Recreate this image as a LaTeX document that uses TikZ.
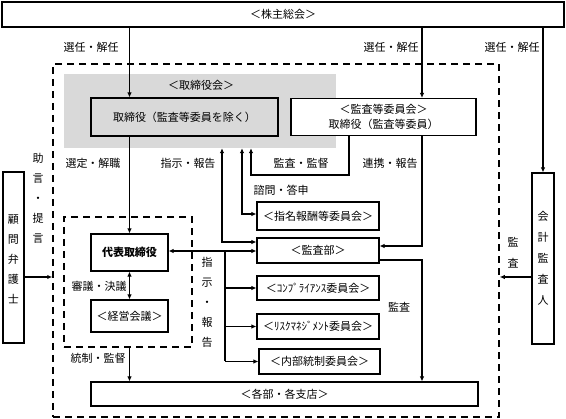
\documentclass[tikz,border=0pt]{standalone}
\usepackage{fontspec}
\newfontfamily\cjk{Noto Sans CJK JP}
\usetikzlibrary{arrows.meta}
\begin{document}
\begin{tikzpicture}[x=1pt,y=-1pt,
  every node/.style={font=\cjk\fontsize{11}{13}\selectfont, inner sep=0pt},
  box/.style={draw, line width=1.1pt},
  arr/.style={-{Latex[length=5pt,width=4.5pt]}, line width=1.1pt},
  darr/.style={{Latex[length=5pt,width=4.5pt]}-{Latex[length=5pt,width=4.5pt]}, line width=1.1pt},
  ln/.style={line width=1.1pt},
  vtext/.style={align=center, font=\cjk\fontsize{11}{20}\selectfont},
  dashbox/.style={draw, line width=1.5pt, dash pattern=on 7pt off 5pt}
]
\useasboundingbox (0,0) rectangle (566,419);
% backgrounds
\node[fill=gray!30, minimum width=272pt, minimum height=74pt] (board) at (200,111) {};
\node[dashbox, minimum width=446pt, minimum height=353pt] (outer) at (276,240.5) {};
\node[dashbox, minimum width=128pt, minimum height=130pt] (inner) at (128,282) {};
% boxes
\node[box, fill=white, minimum width=562pt, minimum height=25pt] (top) at (283,14.5) {＜株主総会＞};
\node[box, minimum width=187pt, minimum height=38pt] (torishimari) at (184.5,117) {取締役（監査等委員を除く）};
\node[box, fill=white, minimum width=185pt, minimum height=37pt, align=center, font=\cjk\fontsize{11}{15}\selectfont] (kansaiin) at (383.5,117) {＜監査等委員会＞\\取締役（監査等委員）};
\node[box, fill=white, minimum width=21pt, minimum height=171pt] (komon) at (13.5,257.5) {};
\node[vtext] (komonT) at (13.5,259.5) {顧\\問\\弁\\護\\士};
\node[box, fill=white, minimum width=22pt, minimum height=171pt] (kaikei) at (543,258.5) {};
\node[vtext, font=\cjk\fontsize{11}{21}\selectfont] (kaikeiT) at (543,258) {会\\計\\監\\査\\人};
\node[box, fill=white, minimum width=77pt, minimum height=37pt, font=\cjk\bfseries\fontsize{11}{13}\selectfont] (daihyo) at (129.5,252.5) {代表取締役};
\node[box, fill=white, minimum width=77pt, minimum height=32pt] (keiei) at (129.5,316) {＜経営会議＞};
\node[box, fill=white, minimum width=387pt, minimum height=24pt] (kakubu) at (284.5,394) {＜各部・各支店＞};
\node[box, fill=white, minimum width=122pt, minimum height=28pt] (shimei) at (318,216) {＜指名報酬等委員会＞};
\node[box, fill=white, minimum width=122pt, minimum height=25pt] (kansabu) at (318,250.5) {＜監査部＞};
\node[box, fill=white, minimum width=122pt, minimum height=24pt] (comp) at (318,288) {＜ｺﾝﾌﾟﾗｲｱﾝｽ委員会＞};
\node[box, fill=white, minimum width=122pt, minimum height=25pt] (risk) at (318,326.5) {＜ﾘｽｸﾏﾈｼﾞﾒﾝﾄ委員会＞};
\node[box, fill=white, minimum width=121pt, minimum height=25pt] (naibu) at (319.5,361.5) {＜内部統制委員会＞};
% labels
\node (l1) at (91,47) {選任・解任};
\node (l2) at (391,47) {選任・解任};
\node (l3) at (512,47) {選任・解任};
\node (l4) at (201,85) {＜取締役会＞};
\node (l5) at (93,163) {選定・解職};
\node (l6) at (188,163) {指示・報告};
\node (l7) at (301,163) {監査・監督};
\node (l8) at (390,163) {連携・報告};
\node (l9) at (281,190) {諮問・答申};
\node (l10) at (99,286) {審議・決議};
\node (l11) at (98,358) {統制・監督};
\node (l12) at (399,307) {監査};
\node[vtext] (l13) at (38,198) {助\\言\\・\\提\\言};
\node[vtext] (l14) at (207,302) {指\\示\\・\\報\\告};
\node[vtext, font=\cjk\fontsize{11}{21}\selectfont] (l15) at (513,252.5) {監\\査};
% helper coordinates
\coordinate (cx) at (422,0);
\coordinate (r1) at (422,246);
\coordinate (r2) at (422,260);
\coordinate (m1) at (349,175);
\coordinate (m2) at (251,175);
\coordinate (s1) at (242,214);
\coordinate (k1) at (222,242);
\coordinate (d1) at (168,251);
\coordinate (b0) at (225,251);
\coordinate (y277) at (0,277);
% connectors
\draw[arr] (top.south -| daihyo.north) -- (torishimari.north -| daihyo.north);
\draw[arr] (top.south -| cx) -- (kansaiin.north -| cx);
\draw[arr] (top.south -| kaikei.north) -- (kaikei.north);
\draw[arr] (torishimari.south -| daihyo.north) -- (daihyo.north);
\draw[darr] (daihyo.south) -- (keiei.north);
\draw[arr] (inner.south -| daihyo.north) -- (kakubu.north -| daihyo.north);
\draw[arr] (kansaiin.south -| r1) -- (r1) -- (kansabu.east |- r1);
\draw[arr] (kansabu.east |- r2) -- (r2) -- (kakubu.north -| r2);
\draw[arr] (kansaiin.south -| m1) -- (m1) -- (m2) -- (board.south -| m2);
\draw[darr] (board.south -| s1) -- (s1) -- (shimei.west |- s1);
\draw[darr] (board.south -| k1) -- (k1) -- (kansabu.west |- k1);
\draw[darr] (daihyo.east |- d1) -- (kansabu.west |- d1);
\draw[ln] (b0) -- (b0 |- naibu.west);
\draw[arr] (b0 |- comp.west) -- (comp.west);
\draw[arr] (b0 |- risk.west) -- (risk.west);
\draw[arr] (b0 |- naibu.west) -- (naibu.west);
\draw[arr] (komon.east |- y277) -- (outer.west |- y277);
\draw[arr] (kaikei.west |- y277) -- (outer.east |- y277);
\end{tikzpicture}
\end{document}
